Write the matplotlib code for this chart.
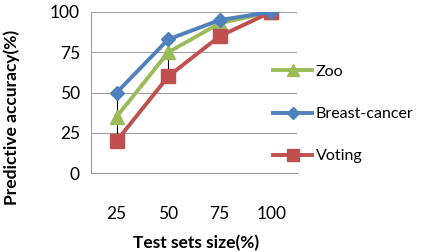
import matplotlib
matplotlib.use("Agg")
import matplotlib.pyplot as plt
from matplotlib.lines import Line2D

categories = ["25", "50", "75", "100"]
zoo = [35, 75, 93, 100]
breast = [50, 83, 95, 100]
voting = [20, 60, 85, 100]
yticks = [0, 25, 50, 75, 100]

plt.rcParams['font.family'] = ['Lato', 'DejaVu Sans']

fig = plt.figure(figsize=(4.29, 2.52), dpi=100)
ax = fig.add_axes([91/429, 1-173/252, 206/429, 161/252])

x = list(range(len(categories)))
# high-low lines
for i in x:
    vals = [zoo[i], breast[i], voting[i]]
    ax.plot([i, i], [min(vals), max(vals)], color='black', lw=0.8, zorder=2)

gc, bc, rc = '#9BBB59', '#4F81BD', '#C0504D'
ax.plot(x, zoo, color=gc, lw=2.8, marker='^', ms=10, zorder=3, label='Zoo')
ax.plot(x, breast, color=bc, lw=2.8, marker='D', ms=7, zorder=4, label='Breast-cancer')
ax.plot(x, voting, color=rc, lw=2.8, marker='s', ms=10, zorder=3, label='Voting')

ax.set_xlim(-0.5, 3.5)
ax.set_ylim(0, 100)
ax.set_yticks(yticks)
ax.set_xticks(x)
ax.set_xticklabels(categories)
ax.tick_params(axis='both', length=0, labelsize=12.5)
ax.tick_params(axis='x', pad=24)
ax.tick_params(axis='y', pad=8)
ax.grid(axis='y', color='#A0A0A0', lw=0.8)
ax.set_axisbelow(True)
for s in ['top', 'right']:
    ax.spines[s].set_visible(False)
for s in ['left', 'bottom']:
    ax.spines[s].set_color('#A0A0A0')
    ax.spines[s].set_linewidth(0.8)

ax.set_ylabel('Predictive accuracy(%)', fontsize=12.5, fontweight='bold', va='center')
ax.yaxis.set_label_coords(-0.383, 0.348)
ax.set_xlabel('Test sets size(%)', fontsize=12.5, fontweight='bold', va='center')
ax.xaxis.set_label_coords(0.51, -0.435)

handles = [
    Line2D([], [], color=gc, lw=2.8, marker='^', ms=8),
    Line2D([], [], color=bc, lw=2.8, marker='D', ms=6),
    Line2D([], [], color=rc, lw=2.8, marker='s', ms=8),
]
fig.legend(handles, ['Zoo', 'Breast-cancer', 'Voting'], loc='center left',
           bbox_to_anchor=(259/429, 1-114/252), frameon=False, fontsize=11.5,
           handlelength=2.4, handletextpad=0.25, labelspacing=1.75)

fig.savefig('out.png', dpi=100)
